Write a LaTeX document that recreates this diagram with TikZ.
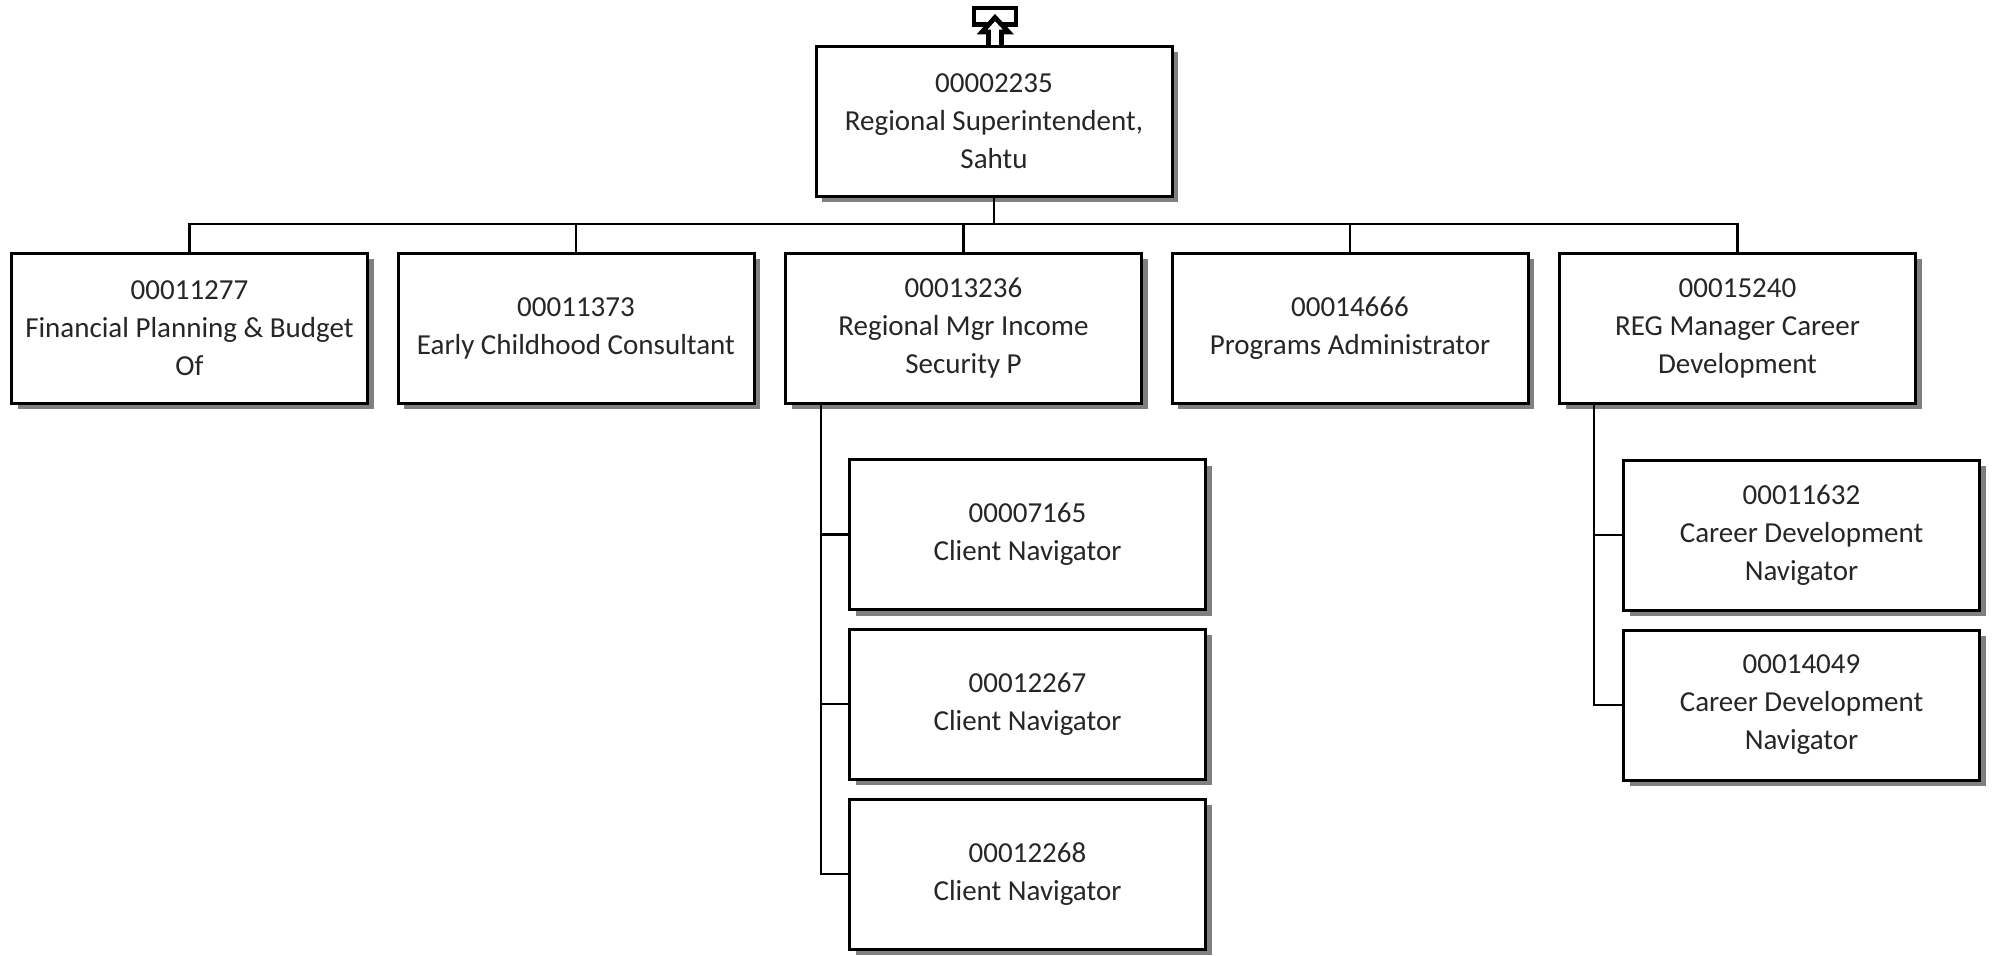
\documentclass[tikz,border=0pt]{standalone}
\usepackage{fontspec}
\setmainfont{Carlito}
\usetikzlibrary{shadows}
\tikzset{
  posbox/.style={draw, line width=1.5pt, fill=white, align=center,
    minimum width=178pt, minimum height=75pt, inner sep=2pt,
    font=\fontsize{14.5}{19}\selectfont, text=black!85,
    drop shadow={shadow xshift=3pt, shadow yshift=-3pt, fill=black!50, opacity=1}},
  conn/.style={line width=1.2pt},
}
\begin{document}
\begin{tikzpicture}[x=0.5pt,y=-0.5pt]
\useasboundingbox (0,0) rectangle (1993,955);
% top indicator
\draw[line width=2.4pt] (974,8) rectangle (1016,24.5);
\draw[line width=2.4pt, fill=white, line join=miter]
  (988.5,46) -- (988.5,32) -- (982,32) -- (995,17.5) -- (1008.5,32) -- (1001.5,32) -- (1001.5,46);
\node[posbox] (top) at (994,121) {00002235\\Regional Superintendent,\\Sahtu};
\node[posbox] (a1) at (189.5,328) {00011277\\Financial Planning \& Budget\\Of};
\node[posbox] (a2) at (576,328) {00011373\\Early Childhood Consultant};
\node[posbox] (a3) at (963.5,328) {00013236\\Regional Mgr Income\\Security P};
\node[posbox] (a4) at (1350,328) {00014666\\Programs Administrator};
\node[posbox] (a5) at (1737.5,328) {00015240\\REG Manager Career\\Development};
\node[posbox] (c1) at (1027.5,534.5) {00007165\\Client Navigator};
\node[posbox] (c2) at (1027.5,704) {00012267\\Client Navigator};
\node[posbox] (c3) at (1027.5,874) {00012268\\Client Navigator};
\node[posbox] (d1) at (1801.5,535) {00011632\\Career Development\\Navigator};
\node[posbox] (d2) at (1801.5,705) {00014049\\Career Development\\Navigator};
\coordinate (bus) at (0,224);
\coordinate (cv) at (821,0);
\coordinate (dv) at (1594,0);
\draw[conn] (top.south) -- (top.south |- bus);
\draw[conn] (a1.north) -- (a1.north |- bus) -- (a5.north |- bus) -- (a5.north);
\draw[conn] (a2.north) -- (a2.north |- bus);
\draw[conn] (a3.north) -- (a3.north |- bus);
\draw[conn] (a4.north) -- (a4.north |- bus);
\draw[conn] (a3.south -| cv) -- (c3.west -| cv) -- (c3.west);
\draw[conn] (c1.west -| cv) -- (c1.west);
\draw[conn] (c2.west -| cv) -- (c2.west);
\draw[conn] (a5.south -| dv) -- (d2.west -| dv) -- (d2.west);
\draw[conn] (d1.west -| dv) -- (d1.west);
\end{tikzpicture}
\end{document}
